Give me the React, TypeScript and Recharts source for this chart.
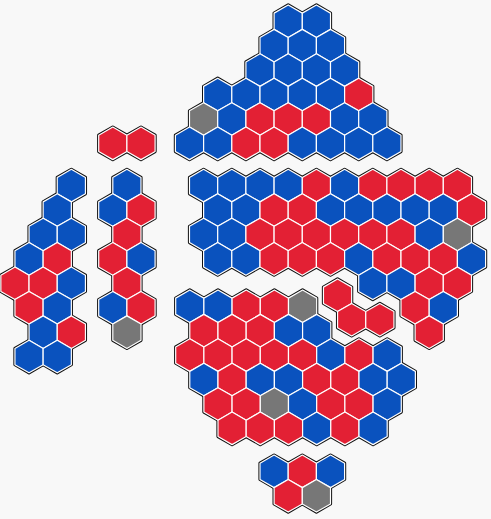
import { Scatter, ScatterChart, XAxis, YAxis } from "recharts";

// Hex map of seats. Each group is a cluster of hexes: an anchor (centre of its
// first cell, in hex units), a half-hex offset per row, and the row's parties.
const CHART_W = 491;
const CHART_H = 519;
const HEX_W = 28.2;
const HEX_R = HEX_W / Math.sqrt(3);
const ROW_H = HEX_R * 1.5;

const partyColors: Record<string, string> = {
  B: "#0a52be",
  R: "#e32034",
  G: "#777777",
};

const groupAnchors: [number, number][] = [
  [6.72, 0.87],
  [4.0, 5.87],
  [0.53, 7.6],
  [4.0, 7.6],
  [7.22, 7.6],
  [11.97, 12.09],
  [6.73, 12.54],
  [9.72, 19.3],
];

const groupOffsets: number[][] = [
  [7, 6, 5, 2, 1, 0],
  [0],
  [4, 3, 2, 1, 0, 1, 2, 1],
  [1, 0, 1, 0, 1, 0, 1],
  [0, 1, 0, 1, 12, 15, 16],
  [0, 1],
  [0, 1, 0, 1, 2, 3],
  [0, 1],
];

const groupRows: string[][] = [
  ["BB", "BBB", "BBBB", "BBBBBR", "GBRRRBB", "BBRRBBBB"],
  ["RR"],
  ["B", "B", "BB", "BR", "RRB", "RB", "BR", "BB"],
  ["B", "BR", "R", "RB", "R", "BR", "G"],
  ["BBBBRBRRRR", "BBRRBBBBBR", "BBRRRRRRBG", "BBRRRBRRRB", "BBRR", "RB", "R"],
  ["R", "RR"],
  ["BBRRG", "RRRBB", "RRRRRBRB", "BRBBRRBB", "RRGBRRB", "RRRBRB"],
  ["BRB", "RG"],
];

type Cell = { x: number; y: number; party: string };

const cells: Cell[] = [];
groupRows.forEach((rows, g) => {
  const [ax, ay] = groupAnchors[g];
  rows.forEach((row, i) => {
    row.split("").forEach((party, j) => {
      cells.push({
        x: ax + (groupOffsets[g][i] + 2 * j) * 0.5,
        y: ay + i,
        party,
      });
    });
  });
});

function hexPoints(cx: number, cy: number, r: number) {
  const pts: string[] = [];
  for (let k = 0; k < 6; k++) {
    const a = ((-90 + 60 * k) * Math.PI) / 180;
    pts.push(`${cx + r * Math.cos(a)},${cy + r * Math.sin(a)}`);
  }
  return pts.join(" ");
}

// first pass: thick black strokes give the outline round each cluster
const OutlineHex = (props: any) => (
  <polygon
    points={hexPoints(props.cx, props.cy, HEX_R)}
    fill="#111"
    stroke="#111"
    strokeWidth={3.2}
    strokeLinejoin="round"
  />
);

// second pass: coloured cells with white borders cover the inner black lines
const SeatHex = (props: any) => (
  <polygon
    points={hexPoints(props.cx, props.cy, HEX_R)}
    fill={partyColors[props.payload.party]}
    stroke="#ffffff"
    strokeWidth={1.2}
    strokeLinejoin="round"
  />
);

export default function App() {
  return (
    <div
      style={{
        position: "absolute",
        left: 0,
        top: 0,
        width: CHART_W,
        height: CHART_H,
        background: "#f8f8f8",
      }}
    >
      <ScatterChart
        width={CHART_W}
        height={CHART_H}
        margin={{ top: 0, right: 0, bottom: 0, left: 0 }}
      >
        <XAxis
          type="number"
          dataKey="x"
          domain={[0, CHART_W / HEX_W]}
          allowDataOverflow
          hide
        />
        <YAxis
          type="number"
          dataKey="y"
          domain={[0, CHART_H / ROW_H]}
          reversed
          allowDataOverflow
          hide
          width={0}
        />
        <Scatter data={cells} shape={OutlineHex} isAnimationActive={false} />
        <Scatter data={cells} shape={SeatHex} isAnimationActive={false} />
      </ScatterChart>
    </div>
  );
}
